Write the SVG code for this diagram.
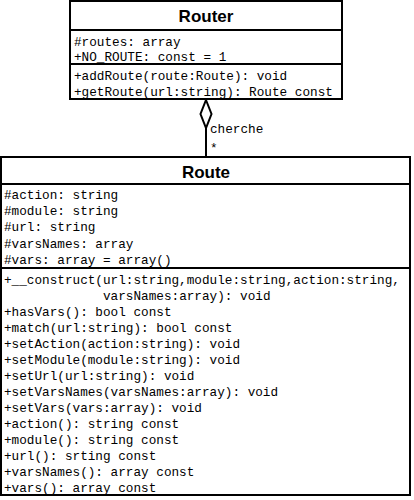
<svg xmlns="http://www.w3.org/2000/svg" width="414" height="500" viewBox="0 0 414 500">
<style>
.box{fill:#fff;stroke:#000;stroke-width:2}
.sep{stroke:#000;stroke-width:2}
.title{font-family:"Liberation Sans",Arial,sans-serif;font-weight:bold;font-size:17px;text-anchor:middle;fill:#000}
.m{font-family:"Liberation Mono","Courier New",monospace;font-size:12.7px;fill:#000}
.lbl{font-family:"Liberation Mono","Courier New",monospace;font-size:12.7px;fill:#000}
</style>
<rect width="414" height="500" fill="#fff"/>
<g id="connectors">
<line x1="206" y1="128" x2="206" y2="157" stroke="#000" stroke-width="2"/>
<polygon points="206,100 211.5,114 206,128 200.5,114" fill="#fff" stroke="#000" stroke-width="2"/>
<text class="lbl" x="210" y="133">cherche</text>
<text class="lbl" x="210" y="152">*</text>
</g>
<g id="Router">
<rect class="box" x="70" y="1" width="272" height="98"/>
<line class="sep" x1="70" y1="30" x2="342" y2="30"/>
<line class="sep" x1="70" y1="64" x2="342" y2="64"/>
<text class="title" x="206" y="22">Router</text>
<text class="m" x="74" y="46">#routes: array</text>
<text class="m" x="74" y="61">+NO_ROUTE: const = 1</text>
<text class="m" x="74" y="80">+addRoute(route:Route): void</text>
<text class="m" x="74" y="96">+getRoute(url:string): Route const</text>
</g>
<g id="Route">
<rect class="box" x="1" y="157" width="409" height="338"/>
<line class="sep" x1="1" y1="184" x2="410" y2="184"/>
<line class="sep" x1="1" y1="268" x2="410" y2="268"/>
<text class="title" x="206" y="178">Route</text>
<text class="m" x="4" y="199">#action: string</text>
<text class="m" x="4" y="215">#module: string</text>
<text class="m" x="4" y="231">#url: string</text>
<text class="m" x="4" y="248">#varsNames: array</text>
<text class="m" x="4" y="264">#vars: array = array()</text>
<text class="m" x="4" y="284">+__construct(url:string,module:string,action:string,</text>
<text class="m" x="103" y="300">varsNames:array): void</text>
<text class="m" x="4" y="316">+hasVars(): bool const</text>
<text class="m" x="4" y="332">+match(url:string): bool const</text>
<text class="m" x="4" y="348">+setAction(action:string): void</text>
<text class="m" x="4" y="364">+setModule(module:string): void</text>
<text class="m" x="4" y="380">+setUrl(url:string): void</text>
<text class="m" x="4" y="396">+setVarsNames(varsNames:array): void</text>
<text class="m" x="4" y="412">+setVars(vars:array): void</text>
<text class="m" x="4" y="428">+action(): string const</text>
<text class="m" x="4" y="444">+module(): string const</text>
<text class="m" x="4" y="460">+url(): srting const</text>
<text class="m" x="4" y="476">+varsNames(): array const</text>
<text class="m" x="4" y="492">+vars(): array const</text>
</g>
</svg>
